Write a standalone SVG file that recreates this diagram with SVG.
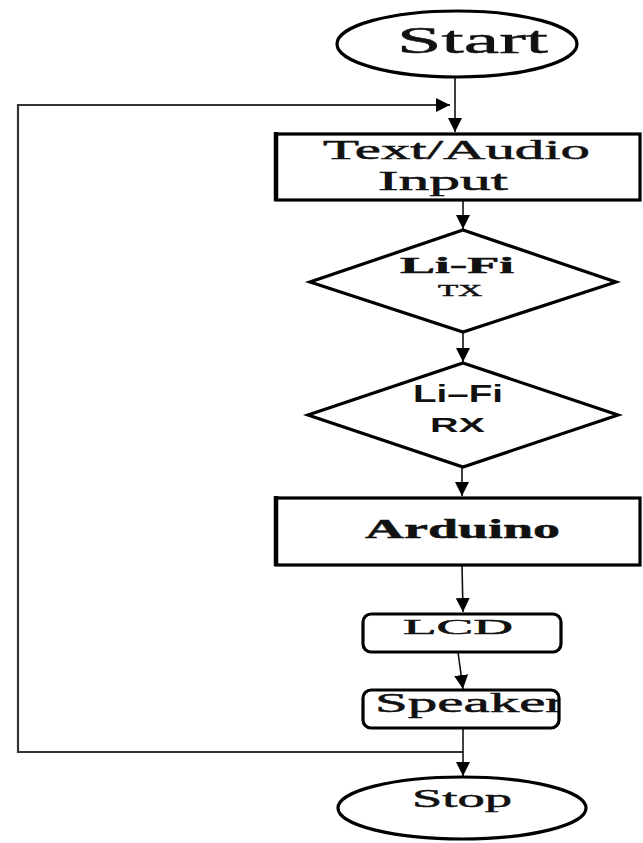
<svg xmlns="http://www.w3.org/2000/svg" width="643" height="843" viewBox="0 0 643 843">
  <style>
    .shape { fill: #fff; stroke: #000; stroke-width: 3.2; }
    .link { fill: none; stroke: #111; stroke-width: 1.6; }
    .loop { fill: none; stroke: #333; stroke-width: 2.2; }
    .serif { font-family: "Liberation Serif", "Times New Roman", serif; fill: #111; stroke: #111; stroke-width: 0.5; }
    .sans { font-family: "Liberation Sans", Arial, sans-serif; fill: #111; font-weight: bold; }
  </style>
  <defs>
    <marker id="arrow" markerUnits="userSpaceOnUse" markerWidth="16" markerHeight="14" refX="14" refY="7" orient="auto">
      <path d="M0,0 L14,7 L0,14 Z" fill="#000"/>
    </marker>
    <clipPath id="speakerClip">
      <rect x="364" y="692" width="194" height="34"/>
    </clipPath>
  </defs>

  <rect width="643" height="843" fill="#fff"/>

  <!-- connectors -->
  <g id="connectors">
    <line class="link" x1="455" y1="78" x2="455" y2="132" marker-end="url(#arrow)"/>
    <polyline class="loop" points="463,752 18,752 18,105 450,105" marker-end="url(#arrow)"/>
    <line class="link" x1="463" y1="200" x2="463" y2="229" marker-end="url(#arrow)"/>
    <line class="link" x1="463" y1="332" x2="463" y2="362" marker-end="url(#arrow)"/>
    <line class="link" x1="462" y1="467" x2="462" y2="496" marker-end="url(#arrow)"/>
    <line class="link" x1="462" y1="565" x2="463" y2="612" marker-end="url(#arrow)"/>
    <line class="link" x1="458" y1="652" x2="463" y2="689" marker-end="url(#arrow)"/>
    <line class="link" x1="463" y1="728" x2="463" y2="776" marker-end="url(#arrow)"/>
  </g>

  <g id="start">
    <ellipse class="shape" cx="457" cy="44" rx="120" ry="33" stroke-width="4"/>
    <text class="serif" x="397" y="53" font-size="38" textLength="151" lengthAdjust="spacingAndGlyphs">Start</text>
  </g>

  <g id="input">
    <rect class="shape" x="276" y="134" width="364" height="66"/>
    <line x1="276" y1="132" x2="276" y2="201" stroke="#000" stroke-width="4.5"/>
    <text class="serif" x="323" y="159" font-size="27" textLength="267" lengthAdjust="spacingAndGlyphs">Text/Audio</text>
    <text class="serif" x="378" y="190" font-size="27" textLength="130" lengthAdjust="spacingAndGlyphs">Input</text>
  </g>

  <g id="lifi-tx">
    <polygon class="shape" points="463,230 616,282 463,332 310,282"/>
    <text class="serif" x="400" y="273" font-size="24" font-weight="bold" textLength="114" lengthAdjust="spacingAndGlyphs">Li-Fi</text>
    <text class="serif" x="438" y="296" font-size="16" textLength="44" lengthAdjust="spacingAndGlyphs">TX</text>
  </g>

  <g id="lifi-rx">
    <polygon class="shape" points="463,363 618,415 463,467 308,415"/>
    <text class="sans" x="413" y="402" font-size="23" textLength="90" lengthAdjust="spacingAndGlyphs">Li–Fi</text>
    <text class="sans" x="430" y="432" font-size="21" textLength="55" lengthAdjust="spacingAndGlyphs">RX</text>
  </g>

  <g id="arduino">
    <rect class="shape" x="276" y="498" width="364" height="67"/>
    <line x1="276" y1="496" x2="276" y2="566" stroke="#000" stroke-width="4.5"/>
    <text class="serif" x="365" y="538" font-size="28" font-weight="bold" textLength="195" lengthAdjust="spacingAndGlyphs">Arduino</text>
  </g>

  <g id="lcd">
    <rect class="shape" x="363" y="614" width="198" height="38" rx="8" stroke-width="3.8"/>
    <text class="serif" x="403" y="634" font-size="22" textLength="110" lengthAdjust="spacingAndGlyphs">LCD</text>
  </g>

  <g id="speaker">
    <rect class="shape" x="363" y="690" width="196" height="38" rx="8" stroke-width="3.8"/>
    <text class="serif" x="375" y="712" font-size="27" textLength="190" lengthAdjust="spacingAndGlyphs" clip-path="url(#speakerClip)">Speaker</text>
  </g>

  <g id="stop">
    <ellipse class="shape" cx="462" cy="808" rx="124" ry="31" stroke-width="4"/>
    <text class="serif" x="412" y="807" font-size="26" textLength="100" lengthAdjust="spacingAndGlyphs">Stop</text>
  </g>
</svg>
